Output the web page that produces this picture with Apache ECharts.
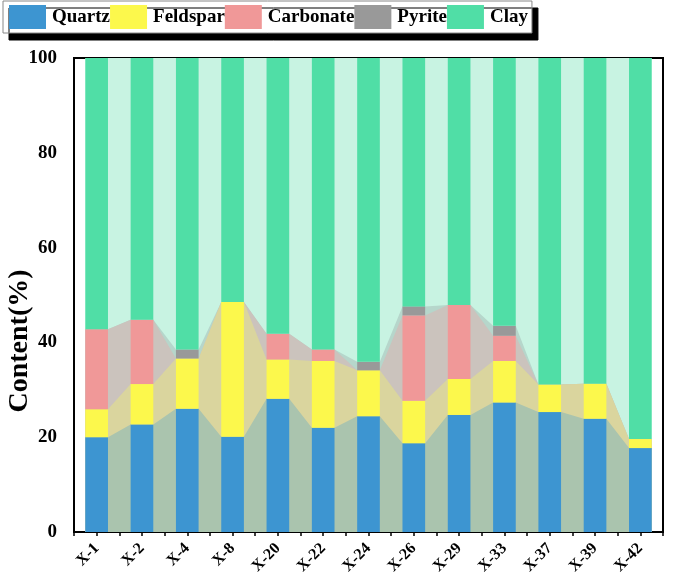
<!DOCTYPE html>
<html>
<head>
<meta charset="utf-8">
<script src="https://cdn.jsdelivr.net/npm/echarts@6/dist/echarts.min.js"></script>
<style>
html,body{margin:0;padding:0;background:#fff;}
#container{width:691px;height:584px;}
</style>
</head>
<body>
<div id="container"></div>
<script>
var samples = ['X-1','X-2','X-4','X-8','X-20','X-22','X-24','X-26','X-29','X-33','X-37','X-39','X-42'];
var quartz    = [20.0, 22.7, 26.0, 20.1, 28.1, 22.0, 24.4, 18.7, 24.7, 27.3, 25.3, 23.9, 17.7];
var feldspar  = [5.9, 8.5, 10.6, 28.4, 8.3, 14.1, 9.7, 9.0, 7.6, 8.8, 5.8, 7.4, 1.9];
var carbonate = [16.9, 13.6, 0, 0, 5.4, 2.4, 0, 18.0, 15.6, 5.3, 0, 0, 0];
var pyrite    = [0, 0, 1.9, 0, 0, 0, 1.8, 1.9, 0, 2.1, 0, 0, 0];
var clay = [];
for (var i = 0; i < samples.length; i++) {
  clay.push(+(100 - quartz[i] - feldspar[i] - carbonate[i] - pyrite[i]).toFixed(1));
}

var names = ['Quartz','Feldspar','Carbonate','Pyrite','Clay'];
var values = [quartz, feldspar, carbonate, pyrite, clay];
var barColors = ['#3d95d1','#fcf84c','#f09898','#999999','#50dea6'];
var bandColors = ['#aac4ae','#dad59e','#cbc3bd','#b6d6cb','#c8f3e2'];
var serif = '"Liberation Serif","Times New Roman",serif';
var half = 0.25; // half of bar width, in category units

var myChart = echarts.init(document.getElementById('container'));

// cumulative tops of each component
var cum = [];
for (var s = 0; s < values.length; s++) {
  var row = [];
  for (var i = 0; i < samples.length; i++) {
    row.push((s > 0 ? cum[s-1][i] : 0) + values[s][i]);
  }
  cum.push(row);
}

var series = [];
// connecting bands between bars, top layer first so it sits at the back
for (var s = values.length - 1; s >= 0; s--) {
  var pts = [];
  for (var i = 0; i < samples.length; i++) {
    pts.push([i - half, cum[s][i]]);
    pts.push([i + half, cum[s][i]]);
  }
  series.push({
    name: names[s] + ' band',
    type: 'line',
    xAxisIndex: 1,
    data: pts,
    symbol: 'none',
    silent: true,
    lineStyle: {width: 0},
    areaStyle: {color: bandColors[s], opacity: 1},
    z: 1
  });
}
for (var s = 0; s < values.length; s++) {
  series.push({
    name: names[s],
    type: 'bar',
    stack: 'total',
    barWidth: '50%',
    data: values[s],
    itemStyle: {color: barColors[s]},
    z: 3
  });
}

var option = {
  animation: false,
  backgroundColor: '#fff',
  legend: {
    data: names,
    left: 3,
    top: 1,
    itemWidth: 37,
    itemHeight: 24,
    itemGap: 0,
    icon: 'rect',
    padding: [4, 4, 4, 6],
    backgroundColor: '#fff',
    borderColor: '#888',
    borderWidth: 1,
    shadowColor: '#000',
    shadowOffsetX: 6,
    shadowOffsetY: 7,
    shadowBlur: 0,
    textStyle: {fontFamily: serif, fontWeight: 'bold', fontSize: 19, color: '#000', padding: [0, 0, 0, 1]}
  },
  grid: {
    left: 74, right: 28, top: 58, bottom: 52,
    outerBoundsMode: 'none',
    show: true, borderColor: '#000', borderWidth: 2, backgroundColor: 'transparent'
  },
  xAxis: [{
    type: 'category',
    data: samples,
    position: 'bottom',
    axisLine: {lineStyle: {color: '#000', width: 2}},
    axisTick: {alignWithLabel: true, length: 7, lineStyle: {width: 2}},
    axisLabel: {rotate: 45, margin: 14, fontFamily: serif, fontWeight: 'bold', fontSize: 16, color: '#000'}
  }, {
    type: 'value',
    min: -0.5, max: 12.5, interval: 0.5,
    position: 'bottom',
    axisLine: {show: false},
    axisTick: {show: true, length: 4, lineStyle: {color: '#000', width: 1.5}},
    axisLabel: {show: false},
    splitLine: {show: false}
  }],
  yAxis: {
    type: 'value',
    min: 0, max: 100, interval: 20,
    name: 'Content(%)',
    nameLocation: 'middle',
    nameGap: 40,
    nameMoveOverlap: false,
    nameTextStyle: {fontFamily: serif, fontWeight: 'bold', fontSize: 28, color: '#000', padding: [0, 92, 0, 0]},
    axisLine: {show: true, lineStyle: {color: '#000', width: 2}},
    axisTick: {show: true, length: 6, lineStyle: {width: 2}},
    minorTick: {show: true, splitNumber: 2, length: 3, lineStyle: {color: '#000', width: 1.5}},
    splitLine: {show: false},
    axisLabel: {margin: 17, fontFamily: serif, fontWeight: 'bold', fontSize: 19, color: '#000'}
  },
  series: series
};
myChart.setOption(option);
</script>
</body>
</html>
